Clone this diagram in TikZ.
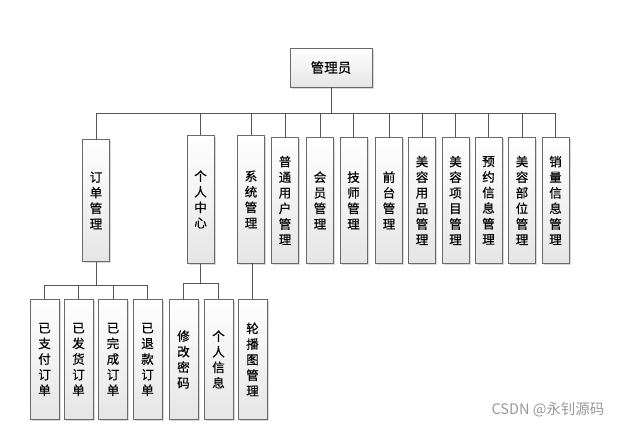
\documentclass[tikz,border=0pt]{standalone}
\usepackage{fontspec}
\setmainfont[FakeBold=0.5]{Noto Sans CJK SC}
\newfontfamily\wmfont{Noto Sans CJK SC}
\usetikzlibrary{shadows}
\definecolor{edge}{HTML}{555555}
\definecolor{bord}{HTML}{6A6A6A}
\begin{document}
\begin{tikzpicture}[x=1pt,y=-1pt,
  box/.style={draw=bord, line width=0.8pt, top color=white, bottom color=black!10,
    drop shadow={shadow xshift=1.6pt, shadow yshift=-1.6pt, fill=black!25, opacity=0.6},
    inner sep=0pt, align=center, anchor=north,
    font=\fontsize{12.5}{15.6}\selectfont},
  lvA/.style={box, minimum width=27pt, minimum height=126pt},
  lvB/.style={box, minimum width=29pt, minimum height=120pt},
  conn/.style={draw=edge, line width=0.8pt}]
\useasboundingbox (0,0) rectangle (631,429);
\node[box, minimum width=82pt, minimum height=39pt, font=\fontsize{13.5}{15}\selectfont, anchor=center] (root) at (331,67.5) {管理员};

\node[lvA, minimum height=122pt] (dd) at (96,139) {订\\单\\管\\理};
\node[lvA, minimum height=128pt] (gr) at (200.5,135) {个\\人\\中\\心};
\node[lvA, minimum height=128pt] (xt) at (251,135) {系\\统\\管\\理};
\node[lvA] (pt) at (285,137) {普\\通\\用\\户\\管\\理};
\node[lvA] (hy) at (320,137) {会\\员\\管\\理};
\node[lvA] (js) at (353.5,137) {技\\师\\管\\理};
\node[lvA] (qt) at (389,137) {前\\台\\管\\理};
\node[lvA] (yp) at (422,137) {美\\容\\用\\品\\管\\理};
\node[lvA] (xm) at (455.5,137) {美\\容\\项\\目\\管\\理};
\node[lvA] (yy) at (488.5,137) {预\\约\\信\\息\\管\\理};
\node[lvA] (bw) at (522,137) {美\\容\\部\\位\\管\\理};
\node[lvA] (xl) at (555.5,137) {销\\量\\信\\息\\管\\理};

\node[lvB] (zf) at (44.5,299) {已\\支\\付\\订\\单};
\node[lvB] (fh) at (78.5,299) {已\\发\\货\\订\\单};
\node[lvB] (wc) at (113,299) {已\\完\\成\\订\\单};
\node[lvB] (tk) at (147.5,299) {已\\退\\款\\订\\单};
\node[lvB] (mm) at (183.5,299) {修\\改\\密\\码};
\node[lvB] (xx) at (218.5,299) {个\\人\\信\\息};
\node[lvB] (lb) at (252.5,299) {轮\\播\\图\\管\\理};

\coordinate (busA) at (331,113);
\draw[conn] (root.south) -- (busA);
\draw[conn] (dd.north |- busA) -- (xl.north |- busA);
\foreach \n in {dd,gr,xt,pt,hy,js,qt,yp,xm,yy,bw,xl}
  \draw[conn] (\n.north |- busA) -- (\n.north);

\coordinate (busB) at (96,285);
\draw[conn] (dd.south) -- (busB);
\draw[conn] (zf.north |- busB) -- (tk.north |- busB);
\foreach \n in {zf,fh,wc,tk}
  \draw[conn] (\n.north |- busB) -- (\n.north);

\coordinate (busC) at (200.5,283);
\draw[conn] (gr.south) -- (busC);
\draw[conn] (mm.north |- busC) -- (xx.north |- busC);
\foreach \n in {mm,xx}
  \draw[conn] (\n.north |- busC) -- (\n.north);

\draw[conn] (xt.south) -- (xt.south -| lb.north) -- (lb.north);

\node[text=black!40, font=\wmfont\fontsize{14.5}{16}\selectfont, inner sep=0pt] (wm) at (548,410) {CSDN @永钊源码};
\end{tikzpicture}
\end{document}
